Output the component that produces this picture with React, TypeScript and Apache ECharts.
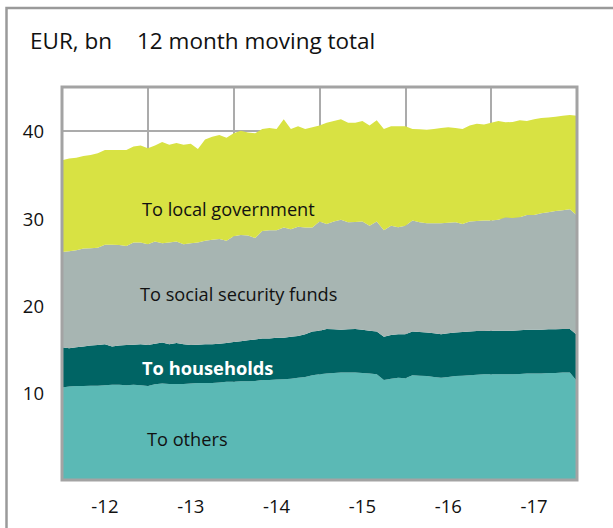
import React, { useEffect, useRef } from "react";
import * as echarts from "echarts";

// Monthly, Jan 2012 .. Jan 2018 (73 points), EUR bn, 12 month moving total
const toOthers = [
  10.6, 10.7, 10.75, 10.75, 10.8, 10.8, 10.85, 10.9, 10.9, 10.85, 10.9, 10.85,
  10.75, 10.95, 11.05, 11.0, 11.0, 11.0, 11.05, 11.1, 11.1, 11.1, 11.15, 11.25,
  11.25, 11.3, 11.3, 11.35, 11.45, 11.45, 11.5, 11.55, 11.6, 11.7, 11.8, 12.0,
  12.1, 12.2, 12.25, 12.3, 12.3, 12.3, 12.25, 12.2, 12.1, 11.45, 11.6, 11.7,
  11.65, 12.0, 11.95, 11.9, 11.8, 11.7, 11.8, 11.9, 11.95, 12.0, 12.05, 12.1,
  12.1, 12.1, 12.1, 12.1, 12.15, 12.2, 12.2, 12.2, 12.25, 12.25, 12.3, 12.3,
  11.3,
];
const toHouseholds = [
  4.6, 4.4, 4.45, 4.55, 4.6, 4.65, 4.7, 4.4, 4.5, 4.6, 4.6, 4.7,
  4.7, 4.65, 4.7, 4.55, 4.7, 4.55, 4.4, 4.4, 4.45, 4.45, 4.45, 4.45,
  4.55, 4.6, 4.7, 4.75, 4.75, 4.75, 4.8, 4.75, 4.8, 4.8, 4.9, 5.0,
  5.0, 5.1, 5.0, 4.9, 4.95, 5.0, 4.95, 4.9, 4.9, 4.95, 5.0, 5.0,
  5.05, 5.0, 5.0, 5.0, 5.0, 5.0, 5.0, 5.0, 5.0, 5.0, 5.0, 4.95,
  5.0, 5.0, 5.0, 5.0, 5.0, 5.0, 5.0, 5.0, 5.0, 5.0, 5.0, 5.0,
  5.3,
];
const toSocialSecurity = [
  10.9, 11.1, 11.1, 11.2, 11.15, 11.15, 11.4, 11.65, 11.5, 11.35, 11.7, 11.65,
  11.55, 11.7, 11.35, 11.65, 11.6, 11.45, 11.65, 11.7, 11.85, 11.95, 12.0, 11.7,
  12.1, 12.15, 12.0, 11.6, 12.3, 12.4, 12.3, 12.6, 12.3, 12.5, 12.2, 11.9,
  12.5, 12.0, 12.35, 12.6, 12.25, 12.25, 12.4, 12.0, 12.6, 12.2, 12.5, 12.25,
  12.4, 12.7, 12.55, 12.5, 12.6, 12.7, 12.65, 12.6, 12.35, 12.6, 12.6, 12.65,
  12.6, 12.7, 12.95, 12.9, 12.95, 13.15, 13.15, 13.35, 13.4, 13.55, 13.6, 13.7,
  13.7,
];
const toLocalGovernment = [
  10.5, 10.6, 10.6, 10.6, 10.65, 10.8, 10.85, 10.85, 10.9, 11.0, 11.0, 11.1,
  11.0, 11.0, 11.6, 11.2, 11.3, 11.4, 11.4, 10.7, 11.6, 11.8, 11.9, 11.8,
  11.8, 11.95, 11.8, 12.0, 11.7, 11.7, 11.6, 12.4, 11.5, 11.5, 11.3, 11.5,
  11.0, 11.6, 11.5, 11.5, 11.4, 11.35, 11.5, 11.5, 11.6, 11.6, 11.4, 11.55,
  11.4, 10.5, 10.65, 10.7, 10.8, 10.9, 10.95, 10.8, 10.9, 11.0, 11.15, 11.0,
  11.2, 11.3, 10.9, 11.0, 11.1, 10.75, 10.95, 10.9, 10.85, 10.8, 10.8, 10.8,
  11.4,
];
const yearLabels = ["-12", "-13", "-14", "-15", "-16", "-17"];
const months = toOthers.map((_, i) => `m${i}`);

const FONT = "'Open Sans', 'Noto Sans', sans-serif";
const INK = "#111111";

export default function App() {
  const ref = useRef<HTMLDivElement>(null);
  useEffect(() => {
    if (!ref.current) return;
    const chart = echarts.init(ref.current, null, { renderer: "svg" });
    const mk = (name: string, data: number[], color: string) => ({
      name,
      type: "line",
      stack: "total",
      data,
      symbol: "none",
      showSymbol: false,
      lineStyle: { width: 0 },
      areaStyle: { color, opacity: 1 },
      itemStyle: { color },
      z: 3,
    });
    chart.setOption({
      animation: false,
      textStyle: { fontFamily: FONT },
      grid: {
        left: 62,
        top: 87,
        right: 36,
        bottom: 48,
        show: false,
      },
      xAxis: [
        {
          type: "category",
          data: months,
          boundaryGap: false,
          axisLine: { show: false },
          axisTick: { show: false },
          axisLabel: { show: false },
          splitLine: {
            show: true,
            interval: (i: number) => i % 12 === 0 && i > 0 && i < 72,
            lineStyle: { color: "#ababab", width: 2 },
          },
        },
        {
          type: "category",
          data: yearLabels,
          boundaryGap: true,
          position: "bottom",
          axisLine: { show: false },
          axisTick: { show: false },
          axisLabel: { fontSize: 18.5, color: INK, margin: 16, fontFamily: FONT },
          splitLine: { show: false },
        },
      ],
      yAxis: {
        type: "value",
        min: 0,
        max: 45,
        interval: 10,
        axisLine: { show: false },
        axisTick: { show: false },
        axisLabel: {
          fontSize: 18.5,
          color: INK,
          margin: 18,
          fontFamily: FONT,
          formatter: (v: number) => (v === 0 || v === 45 ? "" : String(v)),
        },
        splitLine: { show: true, lineStyle: { color: "#ababab", width: 2 } },
      },
      series: [
        mk("To others", toOthers, "#5bb9b5"),
        mk("To households", toHouseholds, "#006464"),
        mk("To social security funds", toSocialSecurity, "#a7b5b2"),
        mk("To local government", toLocalGovernment, "#d8e243"),
      ],
      graphic: [
        {
          type: "rect",
          z: 0,
          silent: true,
          shape: { x: 6.5, y: 8, width: 700, height: 600 },
          style: { fill: "none", stroke: "#9a9a9a", lineWidth: 2.5 },
        },
        {
          type: "rect",
          z: 50,
          silent: true,
          shape: { x: 62, y: 87, width: 515, height: 393 },
          style: { fill: "none", stroke: "#a3a3a3", lineWidth: 3 },
        },
        {
          type: "text",
          left: 30,
          top: 29,
          style: { text: "EUR, bn", font: `22.5px ${FONT}`, fill: INK },
        },
        {
          type: "text",
          left: 137,
          top: 29,
          style: { text: "12 month moving total", font: `22.5px ${FONT}`, fill: INK },
        },
        {
          type: "text",
          z: 60,
          x: 142,
          y: 209,
          style: { text: "To local government", font: `18.2px ${FONT}`, fill: INK, textVerticalAlign: "middle" },
        },
        {
          type: "text",
          z: 60,
          x: 140,
          y: 294,
          style: { text: "To social security funds", font: `18.2px ${FONT}`, fill: INK, textVerticalAlign: "middle" },
        },
        {
          type: "text",
          z: 60,
          x: 142,
          y: 367,
          style: { text: "To households", font: `bold 18.3px ${FONT}`, fill: "#ffffff", textVerticalAlign: "middle" },
        },
        {
          type: "text",
          z: 60,
          x: 147,
          y: 439,
          style: { text: "To others", font: `18.2px ${FONT}`, fill: INK, textVerticalAlign: "middle" },
        },
      ],
    });
    return () => chart.dispose();
  }, []);
  return (
    <div
      ref={ref}
      style={{ position: "fixed", left: 0, top: 0, width: 613, height: 528, background: "#fff" }}
    />
  );
}
